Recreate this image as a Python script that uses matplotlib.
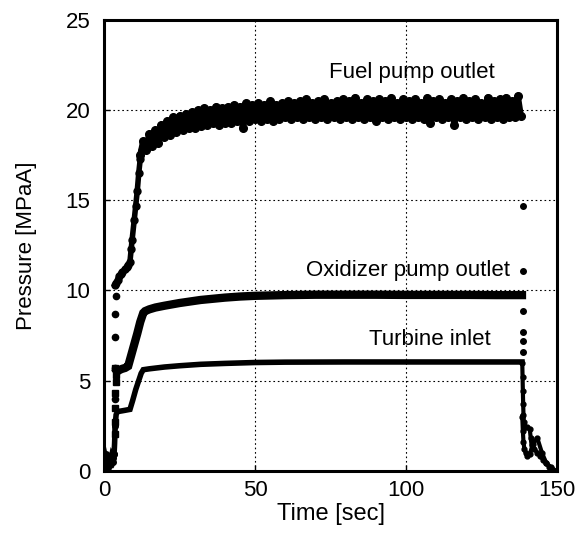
import matplotlib.pyplot as plt

plt.rcParams['font.family'] = ['Liberation Sans', 'DejaVu Sans']

# 燃料ポンプ出口 (Fuel pump outlet)
fuel_t = [0, 0.5, 1, 1.5, 2, 2.5, 3, 3.3]
fuel_p = [0.6, 0.9, 0.4, 0.8, 0.5, 0.9, 0.7, 0.9]
fuel_rise_t = [3.5, 3.6, 3.7, 3.8, 3.9]
fuel_rise_p = [4.0, 5.7, 7.4, 8.7, 9.7]
fuel_run_t = [3.6, 4, 4.5, 5, 5.5, 6, 7, 7.5, 8, 8.6, 9, 9.3, 10, 10.5, 11, 11.5, 12, 12.6]
fuel_run_p = [10.3, 10.4, 10.6, 10.8, 10.9, 11.0, 11.2, 11.3, 11.4, 11.6, 12.3, 12.8,
              13.9, 14.7, 15.5, 16.5, 17.3, 17.8]
fuel_noisy_p = [
    17.5, 18.3, 17.8, 18.7, 18.0, 18.9, 18.2, 19.2, 18.5,
    19.4, 18.6, 19.6, 18.8, 19.7, 18.9, 19.8, 19.0, 19.9, 19.0,
    20.0, 19.1, 20.1, 19.2, 20.0, 19.3, 20.2, 19.2, 20.1, 19.3,
    20.2, 19.3, 20.3, 19.4, 20.2, 19.0, 20.4, 19.4, 20.3, 19.5,
    20.4, 19.4, 20.3, 19.5, 20.5, 19.4, 20.3, 19.5, 20.4, 19.6,
    20.5, 19.5, 20.4, 19.6, 20.5, 19.5, 20.6, 19.6, 20.4, 19.5,
    20.5, 19.6, 20.6, 19.5, 20.4, 19.6, 20.5, 19.5, 20.6, 19.6,
    20.5, 19.5, 20.7, 19.6, 20.4, 19.5, 20.6, 19.6, 20.5, 19.4,
    20.6, 19.6, 20.5, 19.5, 20.7, 19.6, 20.4, 19.5, 20.6, 19.6,
    20.5, 19.5, 20.6, 19.6, 20.4, 19.5, 20.7, 19.3, 20.5, 19.6,
    20.6, 19.5, 20.4, 19.6, 20.6, 19.2, 20.5, 19.6, 20.7, 19.5,
    20.5, 19.6, 20.6, 19.5, 20.4, 19.6, 20.7, 19.5, 20.5, 19.6,
    20.6, 19.5, 20.7, 19.6, 20.5, 19.6, 20.8, 19.7]
fuel_noisy_t = list(range(12, 12 + len(fuel_noisy_p)))
fuel_drop_t = [138.6, 138.7]
fuel_drop_p = [14.7, 11.05]

# 酸化剤ポンプ出口 (Oxidizer pump outlet)
ox_t = [0, 0.5, 1, 1.5, 2, 2.5, 3, 3.3, 3.6]
ox_p = [0.3, 0.6, 0.2, 0.5, 0.3, 0.7, 0.5, 0.9, 2.5]
ox_rise_t = [3.8, 3.9, 4.0, 3.6]
ox_rise_p = [4.3, 4.9, 5.3, 5.7]
ox_run_t = [4.3, 5.3, 6, 7, 8, 9, 10, 11, 12, 13, 13.6, 15, 17, 20, 25, 32, 40, 45,
            50, 60, 70, 80, 90, 100, 110, 120, 130, 138.4]
ox_run_p = [5.5, 5.6, 5.65, 5.7, 5.8, 6.4, 7.0, 7.6, 8.25, 8.75, 8.85, 8.95, 9.05,
            9.15, 9.3, 9.47, 9.6, 9.66, 9.7, 9.74, 9.76, 9.76, 9.76, 9.75, 9.75,
            9.75, 9.74, 9.74]
ox_drop_t = [138.6, 138.7, 138.8, 138.9]
ox_drop_p = [8.85, 7.7, 7.2, 6.6]

# タービン入口 (Turbine inlet)
tb_t = [0, 0.5, 1, 1.5, 2, 2.5, 3, 3.3, 3.5, 3.7, 4.0, 4.5, 5.3, 6, 7, 8.6, 9.5,
        10.5, 11.5, 12.3, 13, 15, 20, 25, 32, 40, 50, 60, 80, 100, 120, 138.4]
tb_p = [0.4, 0.7, 0.3, 0.6, 0.4, 0.8, 0.6, 0.8, 1.5, 2.5, 3.1, 3.3, 3.3, 3.32,
        3.35, 3.4, 3.9, 4.5, 5.0, 5.4, 5.6, 5.65, 5.75, 5.82, 5.9, 5.95, 6.0,
        6.02, 6.03, 6.03, 6.03, 6.03]
tb_rise_t = [3.8, 3.8, 3.8]
tb_rise_p = [2.05, 2.7, 3.45]

# 停止後 (after shutdown)
tail1_t = [138.5, 138.6, 138.7, 138.8, 138.9, 139.0, 139.2, 139.5, 140.2, 141.0,
           141.3, 141.6, 142.5, 143.5, 144.5, 145.5, 146.5, 147.5]
tail1_p = [6.0, 5.2, 4.4, 3.7, 3.1, 2.7, 2.5, 2.45, 2.4, 2.3, 1.8, 1.4, 1.2, 1.0,
           0.8, 0.6, 0.4, 0.2]
tail2_t = [138.5, 138.7, 138.9, 139.2, 139.6, 140.2, 141.0, 142.0, 143.5, 145.0,
           146.5, 148.0, 149.5]
tail2_p = [3.0, 2.2, 1.6, 1.2, 1.0, 0.8, 0.9, 1.5, 1.8, 1.0, 0.4, 0.2, 0.0]

fig = plt.figure(figsize=(5.86, 5.41), dpi=100)
ax = fig.add_axes([0.1775, 0.13, 0.773, 0.833])

k = 'black'
ax.plot(fuel_t, fuel_p, '-o', color=k, lw=3, ms=4)
ax.plot(fuel_rise_t, fuel_rise_p, 'o', color=k, ms=4.5)
ax.plot(fuel_run_t, fuel_run_p, '-o', color=k, lw=4, ms=5)
ax.plot(fuel_noisy_t, fuel_noisy_p, '-o', color=k, lw=4.5, ms=5.5)
ax.plot(fuel_drop_t, fuel_drop_p, 'o', color=k, ms=4)

ax.plot(ox_t, ox_p, '-o', color=k, lw=3, ms=4)
ax.plot(ox_rise_t, ox_rise_p, 's', color=k, ms=4)
ax.plot(ox_run_t, ox_run_p, '-', color=k, lw=6, solid_joinstyle='miter')
ax.plot(ox_drop_t, ox_drop_p, 'o', color=k, ms=4)

ax.plot(tb_t, tb_p, '-', color=k, lw=4, solid_joinstyle='miter')
ax.plot(tb_rise_t, tb_rise_p, 's', color=k, ms=4)

ax.plot(tail1_t, tail1_p, '-o', color=k, lw=3, ms=3.5)
ax.plot(tail2_t, tail2_p, '-o', color=k, lw=3, ms=3.5)

ax.text(102, 22.1, 'Fuel pump outlet', ha='center', va='center', fontsize=16)
ax.text(100.5, 11.1, 'Oxidizer pump outlet', ha='center', va='center', fontsize=16)
ax.text(108, 7.3, 'Turbine inlet', ha='center', va='center', fontsize=16)

ax.set_xlim(0, 150)
ax.set_ylim(0, 25)
ax.set_xticks([0, 50, 100, 150])
ax.set_yticks([0, 5, 10, 15, 20, 25])
ax.grid(True, color='black', linestyle=(0, (1.5, 2.5)), linewidth=0.8)
ax.tick_params(direction='in', length=4, width=1, labelsize=16)
ax.tick_params(axis='x', pad=7)
ax.tick_params(axis='y', pad=10)
for s in ax.spines.values():
    s.set_linewidth(2.2)

ax.set_xlabel('Time [sec]', fontsize=17, labelpad=1)
ax.set_ylabel('Pressure [MPaA]', fontsize=16, labelpad=20)

fig.savefig('out.png', dpi=100)
